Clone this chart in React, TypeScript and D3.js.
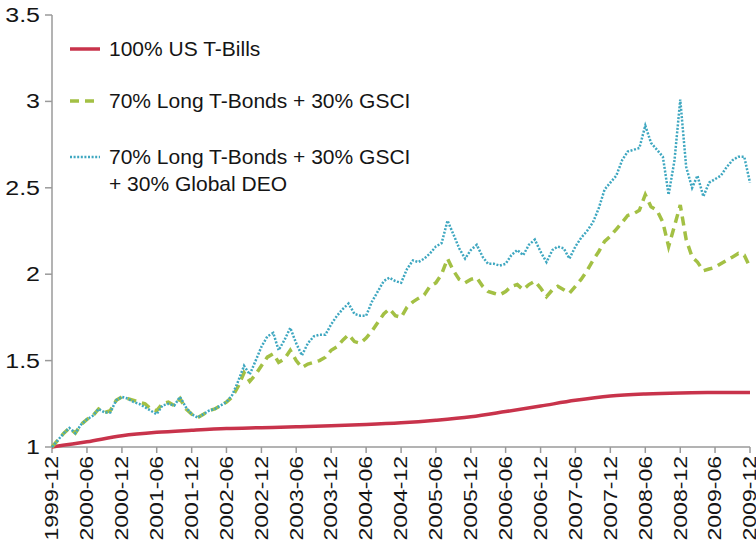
import * as d3 from 'd3';

const W = 756;
const H = 546;
const MARGIN = { top: 15, right: 6, bottom: 99, left: 52 };

// month offsets from 1999-12, one value per month
const START = new Date(1999, 11, 1);

const tbills = [
  1.0, 1.03, 1.065, 1.085, 1.097, 1.107, 1.112, 1.117, 1.123, 1.13, 1.14,
  1.155, 1.175, 1.205, 1.237, 1.27, 1.295, 1.307, 1.313, 1.315, 1.316,
];

const gsci = [
  1.0, 1.04, 1.08, 1.11, 1.08, 1.13, 1.16, 1.18, 1.22, 1.2, 1.21, 1.27, 1.29,
  1.28, 1.27, 1.26, 1.25, 1.22, 1.21, 1.25, 1.26, 1.24, 1.28, 1.22, 1.19,
  1.17, 1.19, 1.21, 1.22, 1.24, 1.26, 1.29, 1.35, 1.43, 1.38, 1.42, 1.47,
  1.52, 1.54, 1.49, 1.51, 1.56, 1.5, 1.46, 1.48, 1.49, 1.5, 1.52, 1.56,
  1.58, 1.62, 1.65, 1.61, 1.6, 1.63, 1.67, 1.72, 1.77, 1.8, 1.76, 1.75,
  1.81, 1.84, 1.86, 1.88, 1.93, 1.95, 2.0, 2.09, 2.02, 1.97, 1.95, 1.97,
  1.98, 1.93, 1.9, 1.89, 1.88, 1.9, 1.93, 1.94, 1.91, 1.94, 1.96, 1.92,
  1.87, 1.91, 1.93, 1.91, 1.89, 1.93, 1.97, 2.02, 2.08, 2.13, 2.19, 2.22,
  2.26, 2.3, 2.34, 2.35, 2.37, 2.46, 2.39, 2.37, 2.3, 2.16, 2.28, 2.4, 2.2,
  2.1, 2.07, 2.02, 2.03, 2.04, 2.06, 2.08, 2.1, 2.12, 2.11, 2.04,
];

const deo = [
  1.0, 1.04, 1.08, 1.11, 1.08, 1.13, 1.16, 1.18, 1.22, 1.2, 1.2, 1.27, 1.29,
  1.28, 1.26, 1.25, 1.23, 1.21, 1.19, 1.24, 1.25, 1.24, 1.29, 1.23, 1.19,
  1.17, 1.19, 1.21, 1.22, 1.24, 1.26, 1.3, 1.38, 1.47, 1.42, 1.5, 1.58, 1.64,
  1.66, 1.56, 1.62, 1.69, 1.6, 1.53, 1.6, 1.64, 1.65, 1.65, 1.71, 1.76, 1.8,
  1.83, 1.77, 1.76, 1.76, 1.84, 1.9, 1.96, 1.98, 1.96, 1.95, 2.03, 2.08,
  2.07, 2.09, 2.12, 2.16, 2.18, 2.31, 2.23, 2.15, 2.09, 2.14, 2.17, 2.1,
  2.06, 2.06, 2.05, 2.06, 2.11, 2.14, 2.11, 2.17, 2.2, 2.13, 2.07, 2.14,
  2.16, 2.15, 2.09, 2.16, 2.21, 2.25, 2.3, 2.38, 2.49, 2.53, 2.57, 2.66,
  2.71, 2.72, 2.73, 2.86, 2.76, 2.72, 2.68, 2.46, 2.66, 3.01, 2.62, 2.5,
  2.57, 2.45, 2.53, 2.55, 2.57, 2.62, 2.66, 2.68, 2.68, 2.53,
];

const yTicks = [1, 1.5, 2, 2.5, 3, 3.5];

const legendItems = [
  { label: ['100% US T-Bills'], color: '#c8334b', dash: null, width: 3.5 },
  { label: ['70% Long T-Bonds + 30% GSCI'], color: '#a3c044', dash: '9,6', width: 3.5 },
  { label: ['70% Long T-Bonds + 30% GSCI', '+ 30% Global DEO'], color: '#3ea7c0', dash: '2,1.6', width: 2.5 },
];

const monthDate = (m: number) => d3.timeMonth.offset(START, m);
const fmt = d3.timeFormat('%Y-%m');

export default function App() {
  const iw = W - MARGIN.left - MARGIN.right;
  const ih = H - MARGIN.top - MARGIN.bottom;

  const x = d3.scaleTime().domain([START, monthDate(120)]).range([0, iw]);
  const y = d3.scaleLinear().domain([1, 3.5]).range([ih, 0]);

  const xTicks = d3.range(0, 121, 6).map(monthDate);

  const monthly = d3
    .line<number>()
    .x((_, i) => x(monthDate(i)))
    .y((d) => y(d))
    .curve(d3.curveLinear);

  const semi = d3
    .line<number>()
    .x((_, i) => x(monthDate(i * 6)))
    .y((d) => y(d))
    .curve(d3.curveMonotoneX);

  const font = 'Arial, "Liberation Sans", sans-serif';
  const axisColor = '#9a9a9a';
  const ink = '#151515';

  return (
    <div style={{ position: 'fixed', left: 0, top: 0 }}>
      <svg width={W} height={H} style={{ display: 'block', background: '#fff' }} fontFamily={font}>
        <g transform={`translate(${MARGIN.left},${MARGIN.top})`}>
          {/* y axis */}
          <line x1={0} x2={0} y1={0} y2={ih} stroke={axisColor} strokeWidth={1.5} />
          {yTicks.map((t) => (
            <g key={t} transform={`translate(0,${y(t)})`}>
              <line x1={-7} x2={0} stroke={axisColor} strokeWidth={1.5} />
              <text
                transform="translate(-12,0) scale(1.25,1)"
                dy="0.35em"
                textAnchor="end"
                fontSize={20}
                fill={ink}
              >
                {t}
              </text>
            </g>
          ))}
          {/* x axis */}
          <line x1={0} x2={iw} y1={ih} y2={ih} stroke={axisColor} strokeWidth={1.5} />
          {xTicks.map((d) => (
            <g key={+d} transform={`translate(${x(d)},${ih})`}>
              <line y1={0} y2={6} stroke={axisColor} strokeWidth={1.5} />
              <text
                transform="rotate(-90) translate(-9,0) scale(1.28,1)"
                dy="0.35em"
                textAnchor="end"
                fontSize={18}
                fill={ink}
              >
                {fmt(d)}
              </text>
            </g>
          ))}

          {/* series */}
          <path d={semi(tbills) ?? ''} fill="none" stroke={legendItems[0].color} strokeWidth={3.5} />
          <path
            d={monthly(gsci) ?? ''}
            fill="none"
            stroke={legendItems[1].color}
            strokeWidth={3.5}
            strokeDasharray="9,6"
          />
          <path
            d={monthly(deo) ?? ''}
            fill="none"
            stroke={legendItems[2].color}
            strokeWidth={2.5}
            strokeDasharray="2,1.6"
          />
        </g>

        {/* legend */}
        {legendItems.map((it, i) => {
          const ly = [49, 101, 157][i];
          return (
            <g key={i}>
              <line
                x1={70}
                x2={100}
                y1={ly}
                y2={ly}
                stroke={it.color}
                strokeWidth={it.width}
                strokeDasharray={it.dash ?? undefined}
              />
              {it.label.map((t, j) => (
                <text key={j} x={109} y={ly + j * 27} dy="0.35em" fontSize={21} fill={ink}>
                  {t}
                </text>
              ))}
            </g>
          );
        })}
      </svg>
    </div>
  );
}
